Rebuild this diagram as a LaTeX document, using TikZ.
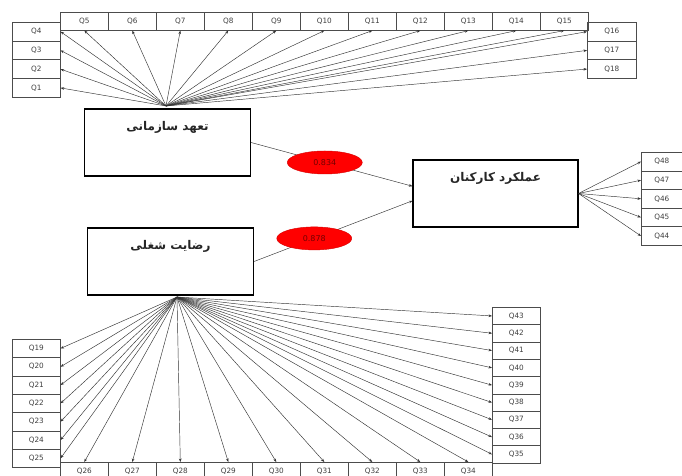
\documentclass[tikz,border=0pt]{standalone}
\usepackage{fontspec}
\setmainfont{DejaVu Sans}
\newfontfamily\farsi[Script=Arabic]{DejaVu Sans}
\TeXXeTstate=1
\usetikzlibrary{arrows.meta,shapes.geometric}

\begin{document}
\begin{tikzpicture}[x=1pt,y=-1pt,
	qbox/.style={draw=black!70,line width=0.6pt,inner sep=0pt,anchor=north west,font=\fontsize{7.3}{8}\selectfont,text=black!75},
	mainbox/.style={draw=black,line width=1.1pt,minimum width=166pt,minimum height=67pt,inner sep=0pt},
	farsilabel/.style={font=\farsi\bfseries\fontsize{12}{14}\selectfont,text=black!85,anchor=north,yshift=-9pt},
	coef/.style={ellipse,fill=red,draw=red!85!black,minimum width=75pt,minimum height=23pt,inner sep=0pt,font=\fontsize{8}{9}\selectfont,text=red!45!black},
	arr/.style={draw=black!80,line width=0.45pt,-{Stealth[length=3.5pt,width=2.6pt]}}]
	\fill[white] (0,0) rectangle (682,476);
	\useasboundingbox (0,0) rectangle (682,476);
	% items
	\foreach \i in {5,...,15}
		\node[qbox,minimum width=48pt,minimum height=18pt] (q\i) at ({60+48*(\i-5)},12) {Q\i};
	\foreach \i in {1,...,4}
		\node[qbox,minimum width=48pt,minimum height=18.75pt] (q\i) at (12,{22+18.75*(4-\i)}) {Q\i};
	\foreach \i in {16,...,18}
		\node[qbox,minimum width=49pt,minimum height=18.7pt] (q\i) at (587,{22+18.7*(\i-16)}) {Q\i};
	\foreach \i in {44,...,48}
		\node[qbox,minimum width=41pt,minimum height=18.6pt] (q\i) at (641,{152+18.6*(48-\i)}) {Q\i};
	\foreach \i in {19,...,25}
		\node[qbox,minimum width=48pt,minimum height=18.3pt] (q\i) at (12,{339+18.3*(\i-19)}) {Q\i};
	\foreach \i in {26,...,34}
		\node[qbox,minimum width=48pt,minimum height=18pt] (q\i) at ({60+48*(\i-26)},462) {Q\i};
	\foreach \i in {35,...,43}
		\node[qbox,minimum width=48pt,minimum height=17.3pt] (q\i) at (492,{307+17.3*(43-\i)}) {Q\i};
	% constructs
	\node[mainbox,label={[farsilabel]north:\beginR تعهد سازمانی\endR}] (org) at (167.5,142.5) {};
	\node[mainbox,label={[farsilabel]north:\beginR رضایت شغلی\endR}] (sat) at (170.5,261.5) {};
	\node[mainbox,minimum width=165pt,label={[farsilabel]north:\beginR عملکرد کارکنان\endR}] (perf) at (495.5,193.5) {};
	\coordinate (hubA) at (166,106);
	\coordinate (hubB) at (177,297);
	% loadings
	\foreach \i in {5,...,15}
		\draw[arr] (hubA) -- (q\i.south);
	\foreach \i in {1,...,4}
		\draw[arr] (hubA) -- (q\i.east);
	\foreach \i in {16,...,18}
		\draw[arr] (hubA) -- (q\i.west);
	\foreach \i in {19,...,25}
		\draw[arr] (hubB) -- (q\i.east);
	\foreach \i in {26,...,34}
		\draw[arr] (hubB) -- (q\i.north);
	\foreach \i in {35,...,43}
		\draw[arr] (hubB) -- (q\i.west);
	\foreach \i in {44,...,48}
		\draw[arr] (perf.east) -- (q\i.west);
	% paths
	\draw[arr] (org.east) -- node[coef,pos=0.457] (c1) {0.834} (perf.175);
	\draw[arr] (sat.east) -- node[coef,pos=0.38] (c2) {0.878} (perf.185);
\end{tikzpicture}
\end{document}
